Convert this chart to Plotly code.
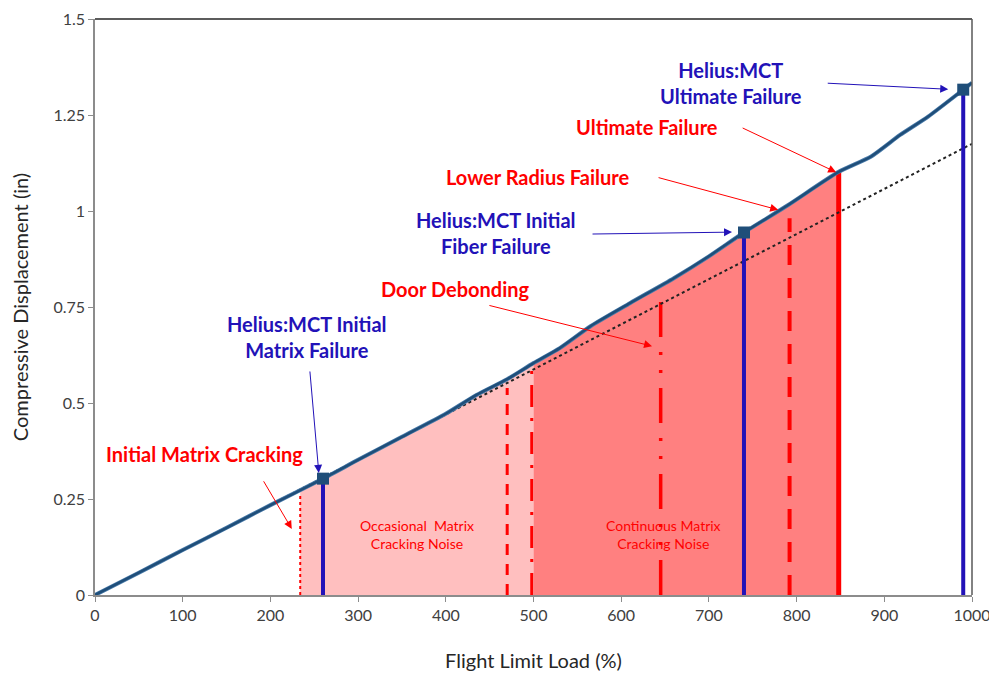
import numpy as np
import plotly.graph_objects as go

# ---- data ----
load_pct = [0, 50, 100, 150, 200, 260, 300, 350, 400, 435, 470, 500, 530, 565,
            610, 660, 700, 740, 790, 848, 885, 918, 950, 990, 1000]
displacement = [0, 0.058, 0.117, 0.175, 0.234, 0.303, 0.352, 0.412, 0.472, 0.521,
                0.562, 0.604, 0.643, 0.700, 0.760, 0.825, 0.882, 0.944, 1.015,
                1.102, 1.142, 1.198, 1.246, 1.316, 1.334]

linear_x = [0, 1000]
linear_y = [0, 1.175]

occasional_range = [234, 500]
continuous_range = [500, 848]

# event lines: load, top displacement
imc_x, imc_top = 234, 0.26          # Initial Matrix Cracking
occ_end_x, occ_end_top = 470, 0.539
cont_start_x, cont_start_top = 498, 0.585
door_x, door_top = 645, 0.778       # Door Debonding
lrf_x, lrf_top = 792, 0.981         # Lower Radius Failure
uf_x, uf_top = 848, 1.102           # Ultimate Failure

helius_x = [260, 740, 990]
helius_y = [0.303, 0.944, 1.316]

x_ticks = [0, 100, 200, 300, 400, 500, 600, 700, 800, 900, 1000]
y_ticks = [0, 0.25, 0.5, 0.75, 1, 1.25, 1.5]
y_tick_labels = ["0", "0.25", "0.5", "0.75", "1", "1.25", "1.5"]

RED = "#FF0000"
BLUE = "#2212B8"
CURVE = "#1F4E79"
FONT = "Lato"

fig = go.Figure()


def region(lo, hi):
    xs = np.array(load_pct, dtype=float)
    ys = np.array(displacement, dtype=float)
    inner = (xs > lo) & (xs < hi)
    rx = np.concatenate([[lo], xs[inner], [hi]])
    ry = np.concatenate([[np.interp(lo, xs, ys)], ys[inner], [np.interp(hi, xs, ys)]])
    return rx, ry


rx, ry = region(*occasional_range)
fig.add_trace(go.Scatter(x=rx, y=ry, mode="lines", line=dict(width=0),
                         fill="tozeroy", fillcolor="#FFBFBF", hoverinfo="skip"))
rx, ry = region(*continuous_range)
fig.add_trace(go.Scatter(x=rx, y=ry, mode="lines", line=dict(width=0),
                         fill="tozeroy", fillcolor="#FF8080", hoverinfo="skip"))


def vline(x, top, color, width, dash):
    fig.add_trace(go.Scatter(x=[x, x], y=[0, top], mode="lines",
                             line=dict(color=color, width=width, dash=dash),
                             hoverinfo="skip"))


vline(imc_x, imc_top, RED, 2, "dot")
vline(occ_end_x, occ_end_top, RED, 3, "11px,9px")
vline(cont_start_x, cont_start_top, RED, 3, "22px,11px,3px,11px")
vline(door_x, door_top, RED, 3.5, "35px,15px,3px,15px,3px,15px")
vline(lrf_x, lrf_top, RED, 4, "20px,13px")
vline(uf_x, uf_top, RED, 5, "solid")

# linear reference (dotted)
fig.add_trace(go.Scatter(x=linear_x, y=linear_y, mode="lines",
                         line=dict(color="#222222", width=2, dash="dot"),
                         hoverinfo="skip"))

# main curve
fig.add_trace(go.Scatter(x=load_pct, y=displacement, mode="lines",
                         line=dict(color="#4A7BAA", width=4, shape="spline", smoothing=0.6),
                         hoverinfo="skip"))
fig.add_trace(go.Scatter(x=load_pct, y=displacement, mode="lines",
                         line=dict(color=CURVE, width=2.5, shape="spline", smoothing=0.6),
                         hoverinfo="skip"))

for hx, hy in zip(helius_x, helius_y):
    vline(hx, hy, BLUE, 4, "solid")

fig.add_trace(go.Scatter(x=helius_x, y=helius_y, mode="markers",
                         marker=dict(symbol="square", size=12, color=CURVE),
                         hoverinfo="skip"))

# ---- annotations ----
BIG = 20
texts = [
    ("Initial Matrix Cracking", 125, 0.368, RED, BIG, True),
    ("Helius:MCT Initial<br>Matrix Failure", 241.6, 0.672, BLUE, BIG, True),
    ("Occasional  Matrix<br>Cracking Noise", 367, 0.157, RED, 14, False),
    ("Continuous Matrix<br>Cracking Noise", 648, 0.157, RED, 14, False),
    ("Door Debonding", 410.6, 0.797, RED, BIG, True),
    ("Helius:MCT Initial<br>Fiber Failure", 457, 0.943, BLUE, BIG, True),
    ("Lower Radius Failure", 504, 1.088, RED, BIG, True),
    ("Ultimate Failure", 629.5, 1.218, RED, BIG, True),
    ("Helius:MCT<br>Ultimate Failure", 725.4, 1.333, BLUE, BIG, True),
]
for t, x, y, c, s, b in texts:
    fig.add_annotation(x=x, y=y, xref="x", yref="y", showarrow=False,
                       text=f"<b>{t}</b>" if b else t,
                       font=dict(family=FONT, size=s, color=c),
                       xanchor="center", yanchor="middle", align="center")

arrows = [
    (191.3, 0.300, 224.4, 0.172, RED),
    (244.9, 0.586, 255.2, 0.318, BLUE),
    (448.0, 0.755, 635.2, 0.648, RED),
    (565.6, 0.940, 726.4, 0.945, BLUE),
    (640.9, 1.088, 779.0, 1.003, RED),
    (736.8, 1.218, 845.1, 1.101, RED),
    (833.8, 1.333, 972.9, 1.317, BLUE),
]
for tx, ty, hx, hy, c in arrows:
    fig.add_annotation(x=hx, y=hy, ax=tx, ay=ty, xref="x", yref="y",
                       axref="x", ayref="y", text="", showarrow=True,
                       arrowhead=2, arrowsize=1.6, arrowwidth=1, arrowcolor=c)

# plot border top/right
fig.add_shape(type="line", xref="paper", yref="paper", x0=0, x1=1, y0=1, y1=1,
              line=dict(color="#262626", width=1.5))
fig.add_shape(type="line", xref="paper", yref="paper", x0=1, x1=1, y0=0, y1=1,
              line=dict(color="#595959", width=1.5))

fig.update_layout(
    width=997, height=673,
    margin=dict(l=87, r=33, t=11, b=86),
    paper_bgcolor="white", plot_bgcolor="white",
    showlegend=False,
    font=dict(family=FONT, color="#404040"),
    xaxis=dict(range=[0, 1000], tickvals=x_ticks, showgrid=False, zeroline=False,
               automargin=False, ticklabeloverflow="allow",
               showline=True, linecolor="#8C8C8C", linewidth=1.5,
               ticks="outside", ticklen=5, tickcolor="#8C8C8C",
               tickfont=dict(size=16, family=FONT, color="#404040"),
               title=dict(text="Flight Limit Load (%)", standoff=31,
                          font=dict(size=20, family=FONT, color="#262626"))),
    yaxis=dict(range=[0, 1.5], tickvals=y_ticks, ticktext=y_tick_labels,
               showgrid=False, zeroline=False, automargin=False,
               ticklabeloverflow="allow",
               showline=True, linecolor="#8C8C8C", linewidth=1.5,
               ticks="outside", ticklen=5, tickcolor="#8C8C8C",
               tickfont=dict(size=16, family=FONT, color="#404040"),
               title=dict(text="Compressive Displacement (in)", standoff=23,
                          font=dict(size=20, family=FONT, color="#262626"))),
)

fig.write_html("out.html")
